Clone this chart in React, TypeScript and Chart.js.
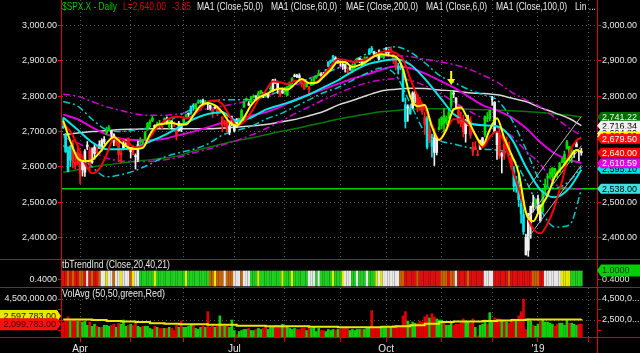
import React, { useEffect, useRef } from "react";
import { Chart, registerables } from "chart.js";

Chart.register(...registerables);

const FONT = "'Liberation Sans', Arial, Helvetica, sans-serif";
const RED = "#e00000";
const GRID = "rgba(150,150,150,0.6)";
const TXT = "#e8e8e8";

// ---------- daily OHLC (Mar 21 2018 .. Jan 29 2019) ----------
const opens = [
  2714, 2691, 2647, 2619, 2667, 2612, 2610,
  2633, 2592, 2585, 2658, 2646, 2617, 2638, 2643, 2653, 2675, 2671, 2697, 2710, 2701, 2692, 2675, 2681, 2634, 2651, 2675, 2682,
  2643, 2651, 2629, 2621, 2671, 2670, 2678, 2705, 2722, 2738, 2718, 2713, 2719, 2718, 2735, 2738, 2714, 2730, 2724, 2705, 2702, 2721,
  2719, 2742, 2749, 2753, 2775, 2765, 2781, 2785, 2787, 2784, 2777, 2766, 2752, 2770, 2770, 2760, 2742, 2722, 2729, 2699, 2727,
  2704, 2733, 2724, 2738, 2769, 2789, 2779, 2783, 2797, 2799, 2793, 2811, 2810, 2805, 2799, 2820, 2817, 2843, 2842, 2819, 2809,
  2822, 2803, 2830, 2840, 2856, 2856, 2858, 2838, 2835, 2827, 2827, 2831, 2838, 2853, 2861, 2860, 2861, 2862, 2885, 2902, 2900, 2908, 2898,
  2897, 2891, 2888, 2868, 2881, 2872, 2889, 2896, 2907, 2903, 2891, 2906, 2919, 2936, 2925, 2921, 2916, 2911, 2910,
  2926, 2924, 2931, 2919, 2902, 2877, 2882, 2874, 2776, 2770, 2764, 2767, 2811, 2803, 2776, 2774, 2721, 2737, 2675, 2675, 2682, 2641, 2705,
  2717, 2746, 2727, 2738, 2774, 2807, 2795, 2773, 2730, 2737, 2694, 2718, 2731, 2654, 2657, 2633, 2650, 2664, 2691, 2737, 2737,
  2790, 2783, 2663, 2691, 2630, 2664, 2658, 2659, 2629, 2590, 2559, 2548, 2496, 2465, 2401, 2364, 2443, 2499, 2499,
  2477, 2491, 2474, 2535, 2569, 2580, 2573, 2588, 2580, 2585, 2614, 2609, 2651, 2658, 2643, 2638, 2657, 2644, 2644,
];
const highs = [
  2739, 2695, 2657, 2661, 2675, 2632, 2659,
  2638, 2619, 2649, 2672, 2656, 2654, 2665, 2662, 2674, 2680, 2686, 2713, 2717, 2703, 2694, 2683, 2683, 2646, 2676, 2677, 2682,
  2655, 2661, 2637, 2673, 2683, 2677, 2701, 2726, 2733, 2743, 2719, 2727, 2732, 2726, 2739, 2742, 2733, 2731, 2728, 2710, 2729, 2722,
  2737, 2749, 2753, 2772, 2779, 2779, 2790, 2790, 2792, 2789, 2782, 2775, 2765, 2774, 2773, 2765, 2742, 2733, 2746, 2724, 2744,
  2727, 2737, 2737, 2764, 2785, 2795, 2785, 2800, 2804, 2802, 2814, 2817, 2810, 2810, 2808, 2829, 2848, 2849, 2843, 2822, 2824,
  2825, 2829, 2840, 2853, 2863, 2862, 2864, 2842, 2843, 2843, 2828, 2850, 2855, 2859, 2874, 2867, 2868, 2876, 2898, 2903, 2916, 2912, 2906,
  2900, 2895, 2892, 2883, 2886, 2892, 2894, 2906, 2908, 2905, 2912, 2912, 2935, 2941, 2926, 2924, 2931, 2927, 2920,
  2938, 2932, 2940, 2920, 2910, 2894, 2894, 2874, 2795, 2776, 2775, 2813, 2817, 2806, 2797, 2780, 2754, 2743, 2722, 2693, 2707, 2686, 2736,
  2741, 2766, 2744, 2765, 2815, 2815, 2796, 2775, 2755, 2747, 2735, 2747, 2742, 2670, 2671, 2647, 2676, 2684, 2744, 2754, 2760,
  2800, 2785, 2698, 2709, 2641, 2674, 2685, 2671, 2635, 2601, 2573, 2585, 2510, 2505, 2410, 2469, 2489, 2520, 2509,
  2520, 2493, 2539, 2566, 2580, 2595, 2598, 2596, 2589, 2613, 2625, 2645, 2675, 2658, 2653, 2647, 2672, 2647, 2653,
];
const lows = [
  2709, 2641, 2586, 2601, 2597, 2594, 2605,
  2553, 2574, 2573, 2649, 2586, 2610, 2622, 2640, 2652, 2645, 2665, 2691, 2703, 2682, 2660, 2660, 2615, 2612, 2648, 2659, 2648,
  2625, 2635, 2594, 2615, 2665, 2655, 2676, 2704, 2714, 2728, 2702, 2712, 2711, 2708, 2725, 2721, 2708, 2707, 2714, 2676, 2702, 2700,
  2719, 2740, 2741, 2749, 2760, 2763, 2780, 2780, 2775, 2777, 2762, 2761, 2740, 2764, 2745, 2752, 2699, 2715, 2699, 2691, 2716,
  2699, 2711, 2717, 2733, 2769, 2786, 2774, 2782, 2795, 2793, 2790, 2806, 2796, 2797, 2795, 2811, 2812, 2836, 2808, 2799, 2808,
  2805, 2801, 2827, 2835, 2855, 2853, 2851, 2826, 2819, 2826, 2802, 2831, 2833, 2850, 2858, 2856, 2854, 2860, 2884, 2893, 2898, 2895, 2893,
  2885, 2876, 2868, 2864, 2873, 2867, 2879, 2896, 2895, 2886, 2890, 2903, 2918, 2926, 2913, 2913, 2903, 2910, 2906,
  2917, 2914, 2922, 2893, 2874, 2863, 2875, 2785, 2710, 2729, 2749, 2766, 2781, 2756, 2760, 2749, 2692, 2651, 2668, 2628, 2604, 2634, 2705,
  2708, 2699, 2720, 2738, 2766, 2796, 2765, 2722, 2714, 2685, 2670, 2717, 2681, 2632, 2649, 2631, 2650, 2656, 2685, 2728, 2730,
  2774, 2698, 2621, 2624, 2583, 2621, 2650, 2637, 2593, 2531, 2528, 2488, 2441, 2409, 2351, 2347, 2398, 2473, 2483,
  2467, 2444, 2474, 2525, 2547, 2568, 2562, 2578, 2570, 2585, 2612, 2607, 2651, 2617, 2612, 2627, 2657, 2618, 2633,
];
const closes = [
  2711, 2643, 2588, 2658, 2612, 2605, 2641,
  2582, 2614, 2644, 2662, 2604, 2613, 2656, 2642, 2663, 2656, 2678, 2706, 2708, 2693, 2670, 2670, 2635, 2639, 2666, 2670, 2648,
  2654, 2636, 2630, 2663, 2672, 2671, 2697, 2723, 2728, 2730, 2711, 2722, 2720, 2713, 2733, 2724, 2733, 2727, 2721, 2690, 2724, 2705,
  2735, 2747, 2749, 2772, 2770, 2779, 2782, 2787, 2776, 2782, 2780, 2774, 2763, 2767, 2750, 2755, 2718, 2724, 2700, 2716, 2718,
  2727, 2714, 2736, 2760, 2785, 2794, 2775, 2798, 2801, 2798, 2809, 2816, 2804, 2802, 2806, 2820, 2846, 2838, 2819, 2803, 2816,
  2813, 2827, 2840, 2850, 2858, 2857, 2853, 2833, 2821, 2840, 2819, 2840, 2850, 2857, 2863, 2861, 2856, 2875, 2897, 2898, 2914, 2901, 2902,
  2896, 2888, 2878, 2872, 2877, 2887, 2888, 2904, 2904, 2888, 2904, 2907, 2931, 2930, 2919, 2916, 2905, 2914, 2914,
  2924, 2923, 2926, 2902, 2885, 2884, 2881, 2786, 2728, 2767, 2750, 2809, 2809, 2769, 2768, 2756, 2741, 2656, 2706, 2658, 2641, 2682, 2712,
  2740, 2723, 2738, 2756, 2814, 2806, 2781, 2726, 2722, 2702, 2731, 2736, 2690, 2642, 2649, 2633, 2674, 2682, 2744, 2738, 2760,
  2790, 2700, 2696, 2633, 2638, 2636, 2651, 2650, 2600, 2546, 2546, 2507, 2467, 2417, 2351, 2468, 2489, 2486, 2507,
  2510, 2448, 2532, 2550, 2574, 2585, 2597, 2596, 2583, 2610, 2616, 2636, 2671, 2633, 2639, 2643, 2665, 2643.85, 2640,
];
// candle colour runs: c=cyan w=white g=green r=red
const candleColorRuns: [string, number][] = [
  ["c", 4], ["r", 4], ["w", 3], ["r", 1], ["w", 2], ["r", 1], ["w", 3], ["g", 2], ["w", 2], ["r", 3], ["w", 2], ["r", 1], ["w", 1], ["r", 1], ["w", 2],
  ["g", 6], ["w", 1], ["g", 2], ["r", 1], ["g", 1], ["w", 1], ["g", 1], ["w", 1], ["r", 2], ["w", 2], ["g", 2], ["w", 1], ["c", 2], ["g", 2], ["c", 1],
  ["w", 1], ["g", 1], ["w", 2], ["r", 1], ["w", 1], ["r", 5], ["w", 4], ["g", 4], ["w", 1], ["g", 2], ["w", 1], ["g", 2], ["w", 1], ["g", 1], ["w", 1],
  ["g", 1], ["w", 3], ["r", 1], ["w", 1], ["g", 4], ["w", 3], ["r", 2], ["g", 1], ["r", 1], ["g", 4], ["w", 2], ["c", 4], ["w", 5], ["r", 1], ["w", 1],
  ["g", 3], ["w", 2], ["g", 1], ["c", 3], ["w", 3], ["g", 2], ["w", 2], ["r", 3], ["c", 4], ["w", 1], ["c", 1], ["w", 2], ["r", 4], ["c", 1], ["r", 1],
  ["c", 1], ["w", 2], ["g", 6], ["w", 2], ["r", 3], ["w", 2], ["r", 4], ["w", 2], ["g", 3], ["w", 3], ["r", 1], ["w", 1], ["r", 4], ["c", 5], ["w", 4],
  ["g", 1], ["w", 2], ["g", 13], ["w", 4],
];
// trend indicator colour runs: r=red o=orange y=yellow w=white g=green
const trendColorRuns: [string, number][] = [
  ["r", 2], ["o", 1], ["r", 1], ["o", 1], ["r", 2], ["o", 2], ["r", 1], ["w", 1], ["r", 1], ["o", 1], ["r", 2], ["o", 1],
  ["w", 2], ["y", 1], ["w", 2], ["o", 1], ["w", 2], ["y", 1], ["w", 3], ["o", 1], ["y", 1], ["w", 2],
  ["g", 6], ["y", 1], ["g", 12], ["y", 1], ["g", 9],
  ["o", 2], ["y", 1], ["o", 3], ["w", 1], ["o", 3],
  ["w", 3], ["o", 1], ["w", 3],
  ["g", 3], ["y", 1], ["g", 9], ["y", 1], ["g", 3], ["y", 1], ["g", 6],
  ["w", 3], ["g", 1], ["w", 1],
  ["g", 5], ["y", 1], ["g", 3], ["y", 1],
  ["w", 3], ["g", 2], ["w", 1], ["g", 3], ["w", 1], ["g", 3],
  ["y", 1], ["w", 1], ["y", 1], ["w", 7], ["o", 2],
  ["r", 5], ["o", 1], ["r", 9], ["o", 3], ["r", 1], ["o", 2], ["w", 1],
  ["r", 4], ["o", 1], ["r", 6], ["w", 4], ["r", 6], ["o", 1], ["r", 9],
  ["o", 3], ["r", 2], ["w", 7], ["y", 4], ["g", 5],
];
// volume in millions
const volumes = [
  2.3, 2.5, 2.8, 2.4, 2.5, 2.6, 2.4,
  2.5, 2.3, 2.4, 2.0, 2.3, 1.9, 2.1, 1.9, 1.8, 1.8, 2.0, 2.0, 1.9, 2.0, 2.1, 1.8, 2.2, 2.1, 2.5, 1.9, 2.0,
  2.1, 2.0, 2.2, 1.9, 1.8, 1.9, 1.9, 1.9, 1.7, 1.6, 1.9, 1.8, 1.7, 1.7, 1.7, 1.7, 1.8, 1.7, 1.5, 2.0, 1.8, 2.4,
  1.8, 1.8, 1.9, 2.0, 2.0, 1.7, 1.6, 1.8, 1.9, 1.8, 3.3, 1.8, 1.9, 1.8, 1.9, 2.9, 2.1, 1.9, 2.1, 1.8, 2.5,
  1.5, 1.1, 1.4, 1.5, 1.6, 1.6, 1.7, 1.5, 1.5, 1.6, 1.7, 1.6, 1.7, 1.8, 1.6, 1.8, 1.9, 2.0, 2.0, 1.9, 2.1,
  1.9, 1.8, 1.7, 1.6, 1.7, 1.6, 1.6, 1.7, 1.7, 1.5, 1.9, 1.7, 1.8, 1.4, 1.7, 1.5, 1.5, 1.4, 1.6, 1.5, 1.6, 1.5, 1.6,
  1.6, 1.7, 1.7, 1.8, 1.5, 1.6, 1.5, 1.6, 1.6, 1.6, 1.6, 1.7, 1.8, 3.4, 1.7, 1.7, 1.8, 1.7, 1.9,
  1.9, 1.8, 1.8, 2.0, 2.0, 1.9, 1.9, 2.9, 3.3, 2.4, 2.1, 2.3, 2.2, 2.2, 2.4, 2.3, 2.8, 3.0, 2.7, 3.1, 2.8, 2.6, 2.5,
  2.5, 2.3, 2.0, 2.0, 2.3, 2.0, 2.1, 2.1, 2.2, 2.6, 2.4, 2.3, 2.2, 2.6, 1.8, 1.0, 2.0, 2.1, 2.5, 2.1, 3.2,
  2.3, 2.7, 2.6, 2.6, 2.5, 2.4, 2.3, 2.2, 2.4, 2.6, 2.5, 2.9, 3.3, 4.5, 1.6, 2.6, 2.4, 2.0, 1.9,
  2.1, 2.4, 2.5, 2.3, 2.3, 2.2, 2.1, 1.9, 2.1, 2.2, 2.2, 2.0, 2.5, 2.2, 2.2, 2.1, 2.0, 2.1, 2.1,
];

// ---------- indicator lines (sampled bar positions) ----------
const idx6 = [0, 6, 12, 18, 24, 30, 36, 42, 48, 54, 60, 66, 72, 78, 84, 90, 96, 102, 108, 114, 120, 126, 132, 138, 144, 150, 156, 162, 168, 174, 180, 186, 192, 198, 204, 210, 215];
const idx3 = [0, 3, 6, 9, 12, 15, 18, 21, 24, 27, 30, 33, 36, 39, 42, 45, 48, 51, 54, 57, 60, 63, 66, 69, 72, 75, 78, 81, 84, 87, 90, 93, 96, 99, 102, 105, 108, 111, 114, 117, 120, 123, 126, 129, 132, 135, 138, 141, 144, 147, 150, 153, 156, 159, 162, 165, 168, 171, 174, 177, 180, 183, 186, 189, 192, 195, 198, 201, 204, 207, 210, 213, 215];
const ma6Yellow = [2731, 2672, 2625, 2616, 2620, 2640, 2667, 2685, 2669, 2655, 2651, 2654, 2692, 2719, 2722, 2725, 2720, 2720, 2746, 2773, 2781, 2774, 2755, 2727, 2717, 2740, 2775, 2796, 2805, 2816, 2822, 2819, 2834, 2849, 2837, 2838, 2855, 2875, 2898, 2897, 2883, 2889, 2899, 2913, 2919, 2916, 2912, 2877, 2799, 2772, 2775, 2714, 2676, 2706, 2763, 2768, 2733, 2692, 2662, 2705, 2738, 2682, 2635, 2583, 2472, 2446, 2485, 2520, 2572, 2598, 2625, 2648, 2644];
const redLine = [2723, 2700, 2660, 2610, 2582, 2595, 2635, 2680, 2678, 2668, 2655, 2660, 2685, 2712, 2730, 2740, 2742, 2738, 2745, 2765, 2785, 2788, 2778, 2745, 2718, 2728, 2755, 2790, 2815, 2842, 2840, 2835, 2843, 2845, 2838, 2840, 2860, 2885, 2905, 2903, 2898, 2900, 2905, 2915, 2925, 2928, 2922, 2905, 2850, 2800, 2768, 2720, 2678, 2705, 2735, 2735, 2720, 2690, 2655, 2685, 2700, 2670, 2600, 2540, 2470, 2425, 2412, 2440, 2490, 2560, 2640, 2675, 2682];
const ma100White = [2691, 2696, 2700, 2703, 2706, 2707, 2708, 2708, 2708, 2708, 2708, 2710, 2713, 2716, 2720, 2727, 2734, 2745, 2757, 2775, 2788, 2802, 2815, 2820, 2823, 2822, 2818, 2815, 2810, 2808, 2804, 2795, 2785, 2768, 2753, 2737, 2717];
const ma200Green = [2585, 2592, 2600, 2606, 2611, 2616, 2620, 2625, 2632, 2645, 2655, 2665, 2674, 2682, 2691, 2700, 2708, 2717, 2726, 2735, 2743, 2750, 2756, 2760, 2763, 2765, 2765, 2764, 2763, 2762, 2761, 2759, 2757, 2754, 2750, 2746, 2741];
const ma50Magenta = [2748, 2735, 2712, 2692, 2680, 2676, 2676, 2680, 2690, 2700, 2712, 2725, 2735, 2745, 2755, 2770, 2790, 2805, 2820, 2835, 2850, 2862, 2875, 2885, 2880, 2865, 2845, 2825, 2800, 2775, 2760, 2740, 2710, 2670, 2638, 2620, 2611];
const magentaUpper = [2806, 2800, 2785, 2770, 2760, 2750, 2746, 2746, 2750, 2758, 2765, 2772, 2780, 2788, 2800, 2815, 2830, 2850, 2865, 2880, 2895, 2905, 2912, 2915, 2912, 2905, 2898, 2890, 2878, 2860, 2840, 2812, 2790, 2770, 2740, 2710, 2689];
const magentaLower = [2685, 2668, 2645, 2625, 2617, 2615, 2616, 2620, 2628, 2640, 2650, 2662, 2675, 2690, 2708, 2728, 2750, 2770, 2790, 2808, 2825, 2838, 2846, 2850, 2845, 2830, 2810, 2785, 2760, 2738, 2712, 2688, 2645, 2608, 2552, 2540, 2538];
const ma20Cyan = [2740, 2705, 2670, 2650, 2650, 2655, 2672, 2690, 2712, 2735, 2750, 2755, 2730, 2740, 2762, 2775, 2788, 2805, 2825, 2845, 2870, 2890, 2900, 2905, 2890, 2850, 2800, 2750, 2725, 2718, 2715, 2680, 2600, 2535, 2514, 2540, 2592];
const cyanUpper = [2785, 2772, 2735, 2705, 2700, 2705, 2712, 2725, 2745, 2765, 2780, 2790, 2790, 2790, 2800, 2815, 2835, 2850, 2865, 2880, 2900, 2920, 2932, 2940, 2925, 2895, 2860, 2840, 2820, 2805, 2790, 2735, 2650, 2560, 2540, 2560, 2600];
const cyanLower = [2660, 2640, 2600, 2572, 2578, 2590, 2608, 2628, 2640, 2650, 2665, 2690, 2703, 2715, 2735, 2750, 2770, 2790, 2810, 2825, 2845, 2865, 2880, 2860, 2780, 2700, 2675, 2665, 2655, 2650, 2648, 2630, 2560, 2480, 2430, 2435, 2535];
const volAvg = [2.55, 2.55, 2.5, 2.4, 2.35, 2.3, 2.2, 2.15, 2.1, 2.1, 2.05, 2.05, 1.95, 1.95, 1.9, 1.9, 1.9, 1.85, 1.85, 1.8, 1.8, 1.8, 1.85, 1.9, 2.0, 2.15, 2.3, 2.35, 2.35, 2.4, 2.45, 2.5, 2.55, 2.55, 2.55, 2.55, 2.6];
const regIdx = [193, 215];
const regUpper = [2542, 2743];
const regMid = [2455, 2660];
const regLower = [2400, 2605];
const supportLevel = 2538;
const arrowIdx = 161;

// ---------- axes / labels ----------
const monthTickIdx = [7, 28, 50, 71, 92, 115, 134, 157, 178, 197, 218];
const monthTickLabels = ["Apr", "", "", "Jul", "", "", "Oct", "", "", "'19", ""];
const priceTicks = [2400, 2500, 2600, 2700, 2800, 2900, 3000];
const volTicks = [1.5, 2.5, 3.5, 4.5];
const priceTagValues = [2741.22, 2716.34, 2694.8, 2686.2, 2679.5, 2595.1, 2610.59, 2640.0, 2538.0];
const priceTagColors = ["#006c00", "#f0f0f0", "#f0f0f0", "#ffff00", "#ff1010", "#00e0e0", "#e000e0", "#ff0000", "#40e0e0"];
const priceTagText = ["#e8ffe8", "#000000", "#000000", "#000000", "#ffffff", "#000000", "#ffffff", "#ffffff", "#000000"];
const volTagLabels = ["2,597,783.00", "2,099,783.00"];
const legendItems = ["MA1 (Close,50,0)", "MA1 (Close,60,0)", "MAE (Close,200,0)", "MA1 (Close,6,0)", "MA1 (Close,100,0)", "Lin ..."];
const legendX = [197, 271, 346, 426, 496, 575];
const legendW = [66, 66, 72, 61, 71, 21];

const X_MIN = -0.5;
const X_MAX = 221.5;
const P_MIN = 2336.6;
const P_MAX = 3072.5;
const V_MIN = 0.786;
const V_MAX = 5.548;

const CANDLE_COLORS: Record<string, string> = { c: "#00e8e8", w: "#f0f0f0", g: "#00e000", r: "#ff1a1a" };
const TREND_COLORS: Record<string, string> = { r: "#e01010", o: "#c86400", y: "#e8e800", w: "#e8e8e8", g: "#20d020" };

const expandRuns = (runs: [string, number][]) => runs.flatMap(([k, n]) => Array(n).fill(k));
const fmt = (v: number, d = 2) => v.toLocaleString("en-US", { minimumFractionDigits: d, maximumFractionDigits: d });
const pts = (xs: number[], ys: number[]) => xs.map((x, i) => ({ x, y: ys[i] }));

function drawTag(ctx: CanvasRenderingContext2D, tipX: number, dir: number, yc: number, h: number, w: number, bg: string, fg: string, text: string) {
  const nose = 4;
  ctx.save();
  ctx.fillStyle = bg;
  ctx.beginPath();
  ctx.moveTo(tipX, yc);
  ctx.lineTo(tipX + dir * nose, yc - h / 2);
  ctx.lineTo(tipX + dir * w, yc - h / 2);
  ctx.lineTo(tipX + dir * w, yc + h / 2);
  ctx.lineTo(tipX + dir * nose, yc + h / 2);
  ctx.closePath();
  ctx.fill();
  ctx.fillStyle = fg;
  ctx.font = `9px ${FONT}`;
  ctx.textBaseline = "middle";
  if (dir === 1) {
    ctx.textAlign = "left";
    ctx.fillText(text, tipX + nose + 1, yc + 0.5);
  } else {
    ctx.textAlign = "right";
    ctx.fillText(text, tipX - nose - 1, yc + 0.5);
  }
  ctx.restore();
}

function drawBorders(ctx: CanvasRenderingContext2D, h: number, bottomY: number, leftBottom: number) {
  ctx.save();
  ctx.strokeStyle = RED;
  ctx.lineWidth = 1;
  ctx.beginPath();
  ctx.moveTo(61.5, 0);
  ctx.lineTo(61.5, leftBottom);
  ctx.moveTo(597.5, 0);
  ctx.lineTo(597.5, h);
  ctx.moveTo(0, bottomY);
  ctx.lineTo(640, bottomY);
  ctx.stroke();
  ctx.restore();
}

function headerText(ctx: CanvasRenderingContext2D, text: string, x: number, y: number, color: string, maxW: number) {
  ctx.save();
  ctx.font = `10px ${FONT}`;
  ctx.textBaseline = "middle";
  ctx.textAlign = "left";
  ctx.fillStyle = color;
  ctx.fillText(text, x, y, maxW);
  ctx.restore();
}

const tickFont = { family: FONT, size: 9 };

export default function App() {
  const mainRef = useRef<HTMLCanvasElement>(null);
  const trendRef = useRef<HTMLCanvasElement>(null);
  const volRef = useRef<HTMLCanvasElement>(null);

  useEffect(() => {
    document.body.style.margin = "0";
    document.body.style.background = "#000";
    const charts: Chart[] = [];
    const N = closes.length;
    const barIdx = closes.map((_, i) => i);
    const candleCols = expandRuns(candleColorRuns).map((k) => CANDLE_COLORS[k]);
    const trendCols = expandRuns(trendColorRuns).map((k) => TREND_COLORS[k]);

    const line = (data: any[], color: string, width: number, order: number, dash: number[] = []) => ({
      type: "line",
      data,
      borderColor: color,
      borderWidth: width,
      borderDash: dash,
      pointRadius: 0,
      fill: false,
      cubicInterpolationMode: "monotone",
      order,
      yAxisID: "y",
    });
    const DD = [7, 3, 2, 3];

    // ---------- main price chart ----------
    const mainDeco = {
      id: "mainDeco",
      afterDatasetsDraw(chart: any) {
        const { ctx, scales } = chart;
        const ax = scales.x.getPixelForValue(arrowIdx);
        const tip = scales.y.getPixelForValue(highs[arrowIdx]) - 6;
        ctx.save();
        ctx.strokeStyle = "#ffff00";
        ctx.lineWidth = 2;
        ctx.beginPath();
        ctx.moveTo(ax, tip - 14);
        ctx.lineTo(ax, tip - 4);
        ctx.stroke();
        ctx.fillStyle = "#ffff00";
        ctx.beginPath();
        ctx.moveTo(ax - 4, tip - 6);
        ctx.lineTo(ax + 4, tip - 6);
        ctx.lineTo(ax, tip);
        ctx.closePath();
        ctx.fill();
        ctx.restore();
      },
      afterDraw(chart: any) {
        const { ctx, scales } = chart;
        headerText(ctx, "$SPX.X - Daily", 62, 7, "#00c800", 55);
        headerText(ctx, `L=${fmt(closes[N - 1])}`, 123, 7, RED, 43);
        headerText(ctx, fmt(closes[N - 1] - closes[N - 2]), 172, 7, RED, 19);
        legendItems.forEach((t, i) => headerText(ctx, t, legendX[i], 7, TXT, legendW[i]));
        drawBorders(ctx, 260, 259.5, 260);
        priceTagValues.forEach((v, i) => {
          drawTag(ctx, 597, 1, scales.y.getPixelForValue(v), 10, 43, priceTagColors[i], priceTagText[i], fmt(v));
        });
      },
    };

    const priceAxisBase = {
      min: P_MIN,
      max: P_MAX,
      afterBuildTicks: (s: any) => {
        s.ticks = priceTicks.map((value) => ({ value }));
      },
      ticks: { color: TXT, font: tickFont, padding: 1, autoSkip: false, callback: (v: any) => fmt(Number(v)) },
    };

    charts.push(
      new Chart(mainRef.current as HTMLCanvasElement, {
        type: "bar",
        data: {
          datasets: [
            line(pts([X_MIN, X_MAX], [supportLevel, supportLevel]), "#00d000", 1.5, 40),
            line(pts(idx6, ma200Green), "#007a00", 1.5, 39),
            line(pts(idx6, ma100White), "#d8d8d8", 1.5, 38),
            line(pts(idx6, magentaUpper), "#d000d0", 1.5, 37, DD),
            line(pts(idx6, magentaLower), "#d000d0", 1.5, 37, DD),
            line(pts(idx6, ma50Magenta), "#e000e0", 2, 36),
            line(pts(idx6, cyanUpper), "#00c8c8", 1.5, 35, DD),
            line(pts(idx6, cyanLower), "#00c8c8", 1.5, 35, DD),
            {
              type: "bar",
              data: barIdx.map((i) => ({ x: i, y: [lows[i], highs[i]] })),
              backgroundColor: candleCols,
              barThickness: 1,
              grouped: false,
              order: 31,
              yAxisID: "y",
            },
            {
              type: "bar",
              data: barIdx.map((i) => ({ x: i, y: [opens[i], closes[i]] })),
              backgroundColor: candleCols,
              barThickness: 2,
              minBarLength: 1,
              grouped: false,
              order: 30,
              yAxisID: "y",
            },
            line(pts(regIdx, regUpper), "#b8b8b8", 1, 28),
            line(pts(regIdx, regMid), "#b8b8b8", 1, 28),
            line(pts(regIdx, regLower), "#b8b8b8", 1, 28),
            line(pts(idx6, ma20Cyan), "#00e8e8", 2, 27),
            line(pts(idx3, redLine), "#ff0000", 2, 26),
            line(pts(idx3, ma6Yellow), "#ffff00", 2, 25),
          ] as any,
        },
        options: {
          responsive: false,
          animation: false,
          devicePixelRatio: 1,
          events: [],
          layout: { padding: 0 },
          plugins: { legend: { display: false }, tooltip: { enabled: false } },
          scales: {
            x: {
              type: "linear",
              min: X_MIN,
              max: X_MAX,
              offset: false,
              afterBuildTicks: (s: any) => {
                s.ticks = monthTickIdx.map((value) => ({ value }));
              },
              afterFit: (s: any) => {
                s.height = 0;
                s.paddingLeft = 0;
                s.paddingRight = 0;
              },
              ticks: { display: false },
              grid: { offset: false, color: GRID, drawTicks: false },
              border: { display: false, dash: [1, 3] },
            },
            y: {
              ...priceAxisBase,
              position: "left",
              afterFit: (s: any) => {
                s.width = 62;
                s.paddingTop = 0;
                s.paddingBottom = 0;
              },
              grid: { color: GRID, tickColor: RED, tickLength: 4 },
              border: { display: false, dash: [1, 3] },
            },
            y2: {
              ...priceAxisBase,
              position: "right",
              afterFit: (s: any) => {
                s.width = 43;
                s.paddingTop = 0;
                s.paddingBottom = 0;
              },
              grid: { drawOnChartArea: false, tickColor: RED, tickLength: 4 },
              border: { display: false },
            },
          },
        } as any,
        plugins: [mainDeco],
      })
    );

    // ---------- trend indicator strip ----------
    const trendDeco = {
      id: "trendDeco",
      afterDraw(chart: any) {
        const { ctx } = chart;
        headerText(ctx, "tbTrendInd (Close,20,40,21)", 62, 5, TXT, 108);
        ctx.save();
        ctx.font = `9px ${FONT}`;
        ctx.textBaseline = "middle";
        ctx.fillStyle = TXT;
        ctx.textAlign = "left";
        ctx.fillText("0.4000", 602, 19.5);
        ctx.textAlign = "right";
        ctx.fillText("0.4000", 57, 19.5);
        ctx.strokeStyle = RED;
        ctx.beginPath();
        ctx.moveTo(58, 19.5);
        ctx.lineTo(62, 19.5);
        ctx.moveTo(597, 19.5);
        ctx.lineTo(601, 19.5);
        ctx.stroke();
        ctx.restore();
        drawBorders(ctx, 28, 27.5, 28);
        drawTag(ctx, 597, 1, 10.5, 12, 43, "#00d000", "#003000", "1.0000");
      },
    };
    charts.push(
      new Chart(trendRef.current as HTMLCanvasElement, {
        type: "bar",
        data: {
          datasets: [
            {
              data: barIdx.map((i) => ({ x: i, y: [0.12, 1] })),
              backgroundColor: trendCols,
              barThickness: 1.8,
              grouped: false,
            },
          ] as any,
        },
        options: {
          responsive: false,
          animation: false,
          devicePixelRatio: 1,
          events: [],
          layout: { padding: { left: 62, right: 43, top: 0, bottom: 0 } },
          plugins: { legend: { display: false }, tooltip: { enabled: false } },
          scales: {
            x: { type: "linear", min: X_MIN, max: X_MAX, offset: false, display: false },
            y: { min: 0, max: 1.647, display: false },
          },
        } as any,
        plugins: [trendDeco],
      })
    );

    // ---------- volume panel ----------
    const volCols = barIdx.map((i) => ((i === 0 ? closes[0] >= opens[0] : closes[i] >= closes[i - 1]) ? "#10d010" : "#e00000"));
    const volDeco = {
      id: "volDeco",
      afterDraw(chart: any) {
        const { ctx, scales } = chart;
        headerText(ctx, "VolAvg (50,50,green,Red)", 62, 6, TXT, 103);
        drawBorders(ctx, 65, 49.5, 50);
        drawTag(ctx, 61, -1, scales.y.getPixelForValue(volAvg[volAvg.length - 1]) - 3, 12, 61, "#e8e800", "#202000", volTagLabels[0]);
        drawTag(ctx, 61, -1, scales.y.getPixelForValue(volumes[N - 1]), 12, 61, "#ff1010", "#400000", volTagLabels[1]);
      },
    };
    const volAxisBase = {
      min: V_MIN,
      max: V_MAX,
      afterBuildTicks: (s: any) => {
        s.ticks = volTicks.map((value) => ({ value }));
      },
    };
    charts.push(
      new Chart(volRef.current as HTMLCanvasElement, {
        type: "bar",
        data: {
          datasets: [
            {
              type: "line",
              data: pts(idx6, volAvg),
              borderColor: "#e8e800",
              borderWidth: 2,
              pointRadius: 0,
              stepped: true,
              fill: false,
              order: 1,
              yAxisID: "y",
            },
            {
              type: "bar",
              data: barIdx.map((i) => ({ x: i, y: volumes[i] })),
              backgroundColor: volCols,
              barThickness: 2,
              grouped: false,
              order: 2,
              yAxisID: "y",
            },
          ] as any,
        },
        options: {
          responsive: false,
          animation: false,
          devicePixelRatio: 1,
          events: [],
          layout: { padding: 0 },
          plugins: { legend: { display: false }, tooltip: { enabled: false } },
          scales: {
            x: {
              type: "linear",
              min: X_MIN,
              max: X_MAX,
              offset: false,
              afterBuildTicks: (s: any) => {
                s.ticks = monthTickIdx.map((value) => ({ value }));
              },
              afterFit: (s: any) => {
                s.height = 15;
                s.paddingLeft = 0;
                s.paddingRight = 0;
              },
              ticks: {
                color: TXT,
                font: { family: FONT, size: 10 },
                padding: 1,
                autoSkip: false,
                maxRotation: 0,
                callback: (_v: any, i: number) => monthTickLabels[i],
              },
              grid: { offset: false, color: GRID, tickColor: RED, tickLength: 4 },
              border: { display: false, dash: [1, 3] },
            },
            y: {
              ...volAxisBase,
              position: "left",
              afterFit: (s: any) => {
                s.width = 62;
                s.paddingTop = 0;
                s.paddingBottom = 0;
              },
              ticks: { color: TXT, font: tickFont, padding: 1, autoSkip: false, callback: (v: any) => (Number(v) === 4.5 ? fmt(Number(v) * 1e6) : "") },
              grid: {
                color: (c: any) => (c.tick && (c.tick.value === 4.5 || c.tick.value === 2.5) ? GRID : "rgba(0,0,0,0)"),
                tickColor: RED,
                tickLength: 4,
              },
              border: { display: false, dash: [1, 3] },
            },
            y2: {
              ...volAxisBase,
              position: "right",
              afterFit: (s: any) => {
                s.width = 43;
                s.paddingTop = 0;
                s.paddingBottom = 0;
              },
              ticks: {
                color: TXT,
                font: tickFont,
                padding: 1,
                autoSkip: false,
                callback: (v: any) => (Number(v) === 4.5 || Number(v) === 2.5 ? fmt(Number(v) * 1e6).slice(0, 7) + "..." : ""),
              },
              grid: { drawOnChartArea: false, tickColor: RED, tickLength: 4 },
              border: { display: false },
            },
          },
        } as any,
        plugins: [volDeco],
      })
    );

    return () => charts.forEach((c) => c.destroy());
  }, []);

  const cs = (top: number, h: number): React.CSSProperties => ({ position: "absolute", left: 0, top, width: 640, height: h });
  return (
    <div style={{ position: "fixed", left: 0, top: 0, width: 640, height: 353, background: "#000", overflow: "hidden" }}>
      <canvas ref={mainRef} width={640} height={260} style={cs(0, 260)} />
      <canvas ref={trendRef} width={640} height={28} style={cs(260, 28)} />
      <canvas ref={volRef} width={640} height={65} style={cs(288, 65)} />
    </div>
  );
}
